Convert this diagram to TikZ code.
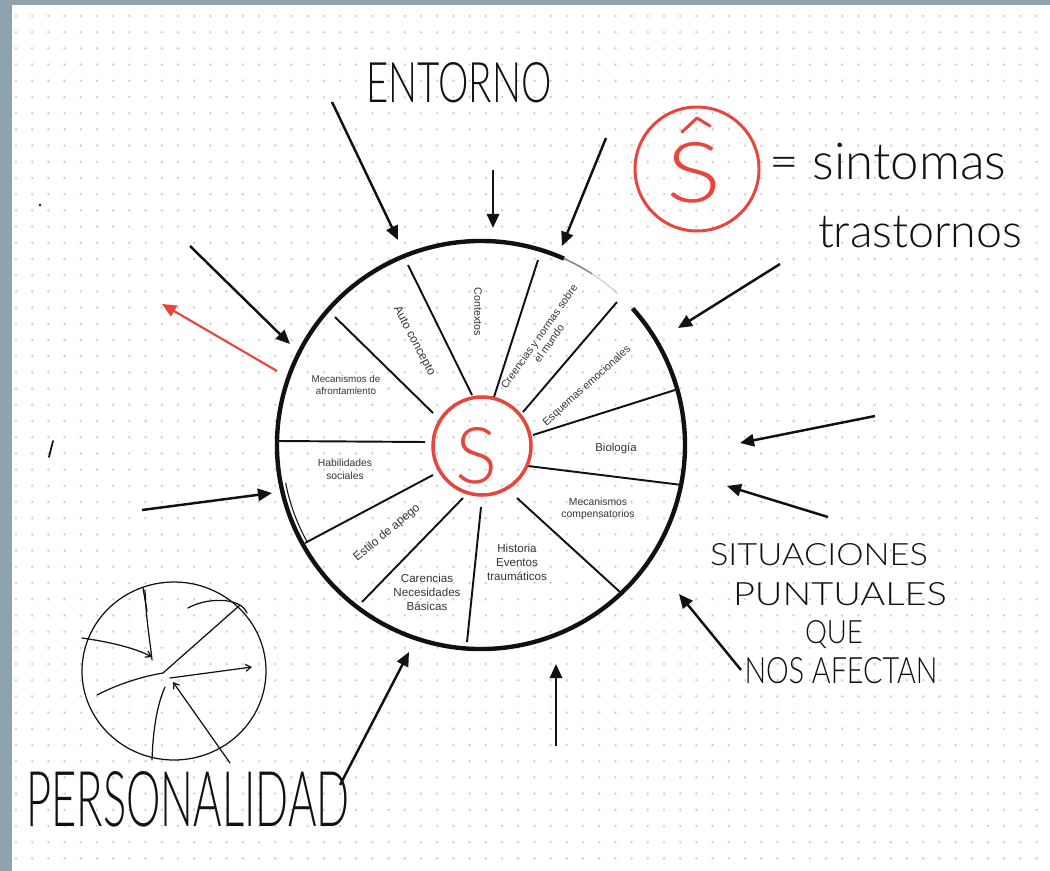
\documentclass[tikz,border=0pt]{standalone}
\usepackage{fontspec}
\setmainfont{Liberation Sans}
\IfFontExistsTF{Lato Light}
  {\newfontfamily\handfont{Lato Light}}
  {\newfontfamily\handfont{Fira Sans}}
\usetikzlibrary{arrows.meta}

\definecolor{frame}{HTML}{8FA3AE}
\definecolor{dotgray}{HTML}{D2D2D2}
\definecolor{penred}{HTML}{E8453C}
\definecolor{ink}{HTML}{111111}

% one pixel of the sheet
\newcommand\pxl[1]{\dimexpr0.02cm*#1\relax}

\tikzset{
  push/.style={-{Triangle[length=8pt,width=7pt]}, line width=1.4pt, draw=ink},
  spoke/.style={line width=1.1pt, draw=ink},
  rim/.style={line width=2.5pt, draw=ink},
  lab/.style 2 args={font=\fontsize{#1}{#2}\selectfont, align=center, inner sep=0pt, text=ink!85},
  hand/.style={font=\handfont, inner sep=0pt, anchor=base, text=ink},
  pen/.style={line width=0.7pt, line cap=round, line join=round, draw=ink},
}

\begin{document}
\begin{tikzpicture}[x=0.02cm, y=-0.02cm]
  \useasboundingbox (0,0) rectangle (1050,871);

  % Paper with the dot grid
  \fill[white] (0,0) rectangle (1050,871);
  \foreach \i in {0,...,63}
    \foreach \j in {0,...,52}
      \fill[dotgray] ({16+16.2*\i},{16+16.2*\j}) circle (1.4);
  \fill[frame] (0,0) rectangle (1050,5);
  \fill[frame] (0,0) rectangle (12,871);

  % The wheel
  \coordinate (hub) at (481,445);
  \draw[rim] (hub) ++(-66:204) arc (-66:-402:204);
  \draw[line width=0.9pt, ink!50] (hub) ++(-66:204) arc (-66:-57:204);
  \draw[line width=0.5pt, ink!25] (hub) ++(-57:204) arc (-57:-48:204);
  \draw[line width=0.6pt, ink] (hub) ++(-191:199) arc (-191:-209:199);

  % Spokes between the sections
  \foreach \x/\y/\u/\v in {472/395/408/265, 494/397/538/260, 523/412/617/302,
                           533/435/675/390, 528/466/682/485, 517/498/620/592,
                           481/507/467/642, 463/498/362/602, 433/475/305/543,
                           425/442/278/441, 433/413/335/317}
    \draw[spoke] (\x,\y) -- (\u,\v);

  % Symptoms in the middle
  \node[circle, draw=penred, line width=2pt, minimum size=98*0.02cm] (core) at (482,446) {};
  \node[hand, text=penred] (coreS) at (476,483) {\resizebox{\pxl{42}}{\pxl{56}}{S}};

  % Section labels
  \node[lab={6.1}{7}, rotate=-90] (ctx) at (478,312) {Contextos};
  \node[lab={6.8}{8}, rotate=-62] (auto) at (414,341) {Auto concepto};
  \node[lab={6.1}{6.9}, rotate=55] (cre) at (544,340) {Creencias y normas sobre\\el mundo};
  \node[lab={6.1}{7}, rotate=42] (esq) at (587,386) {Esquemas emocionales};
  \node[lab={6.5}{7.5}] (bio) at (616,448) {Biología};
  \node[lab={5.9}{6.6}] (mcomp) at (598,509) {Mecanismos\\compensatorios};
  \node[lab={6.6}{7.9}] (hist) at (517,562) {Historia\\Eventos\\traumáticos};
  \node[lab={6.6}{7.9}] (car) at (427,592) {Carencias\\Necesidades\\Básicas};
  \node[lab={6.8}{8}, rotate=40] (apego) at (387,533) {Estilo de apego};
  \node[lab={5.9}{7.2}] (hab) at (345,469) {Habilidades\\sociales};
  \node[lab={5.6}{6.6}] (mafr) at (346,385) {Mecanismos de\\afrontamiento};

  % Arrows coming in from outside
  \foreach \n/\sx/\sy/\ex/\ey in {e1/332/102/398/240, e2/493/170/493/228, e3/606/138/562/246,
                                  e4/780/264/678/328, e5/875/416/740/443, e6/828/517/727/486,
                                  e7/741/670/679/594, e8/556/746/556/664, e9/340/785/409/652,
                                  e10/142/510/272/493, e11/190/246/290/344}
  {
    \coordinate (\n-s) at (\sx,\sy);
    \coordinate (\n-e) at (\ex,\ey);
    \draw[push] (\n-s) -- (\n-e);
  }
  \coordinate (out-s) at (277,371);
  \coordinate (out-e) at (162,304);
  \draw[push, draw=penred, line width=1.2pt] (out-s) -- (out-e);

  % Handwritten notes
  \node[hand] (entorno) at (459,103) {\resizebox{\pxl{185}}{\pxl{40}}{ENTORNO}};
  \draw[penred, line width=1.7pt] (697,169) circle (62);
  \draw[penred, line width=1.7pt, line cap=round, line join=round] (682,132) -- (697,118) -- (710,126);
  \node[hand, text=penred] (legS) at (694,203) {\resizebox{\pxl{55}}{\pxl{60}}{S}};
  \node[hand] (sint) at (888,180) {\resizebox{\pxl{237}}{!}{= sintomas}};
  \node[hand] (trast) at (920,248) {\resizebox{\pxl{204}}{!}{trastornos}};
  \node[hand] (sit1) at (819,565) {\resizebox{\pxl{218}}{\pxl{22}}{SITUACIONES}};
  \node[hand] (sit2) at (840,605) {\resizebox{\pxl{214}}{\pxl{23}}{PUNTUALES}};
  \node[hand] (sit3) at (834,643) {\resizebox{\pxl{58}}{\pxl{23}}{QUE}};
  \node[hand] (sit4) at (841,683) {\resizebox{\pxl{193}}{\pxl{26}}{NOS AFECTAN}};
  \node[hand] (pers) at (188,826) {\resizebox{\pxl{323}}{\pxl{55}}{PERSONALIDAD}};

  % Small sketch of the personality
  \draw[pen] (174,671) ellipse (92 and 89);
  \draw[pen] (143,588) -- (147,611);
  \draw[pen] (145,590) .. controls (146,620) and (150,640) .. (152,660);
  \draw[pen, -{Straight Barb[length=3pt,width=4pt]}] (82,638) .. controls (110,642) and (135,648) .. (152,657);
  \draw[pen] (97,695) .. controls (120,683) and (145,676) .. (163,673) -- (240,605);
  \draw[pen] (188,608) .. controls (205,598) and (240,596) .. (247,613);
  \draw[pen, -{Straight Barb[length=3pt,width=4pt]}] (170,678) -- (252,667);
  \draw[pen] (152,760) .. controls (153,730) and (157,705) .. (165,687);
  \draw[pen, -{Straight Barb[length=3pt,width=4pt]}] (230,763) -- (173,682);

  % Stray pen marks
  \draw[pen, line width=1pt] (49,457) -- (53,441);
  \fill[ink] (40,205) circle (1.3);
\end{tikzpicture}
\end{document}
